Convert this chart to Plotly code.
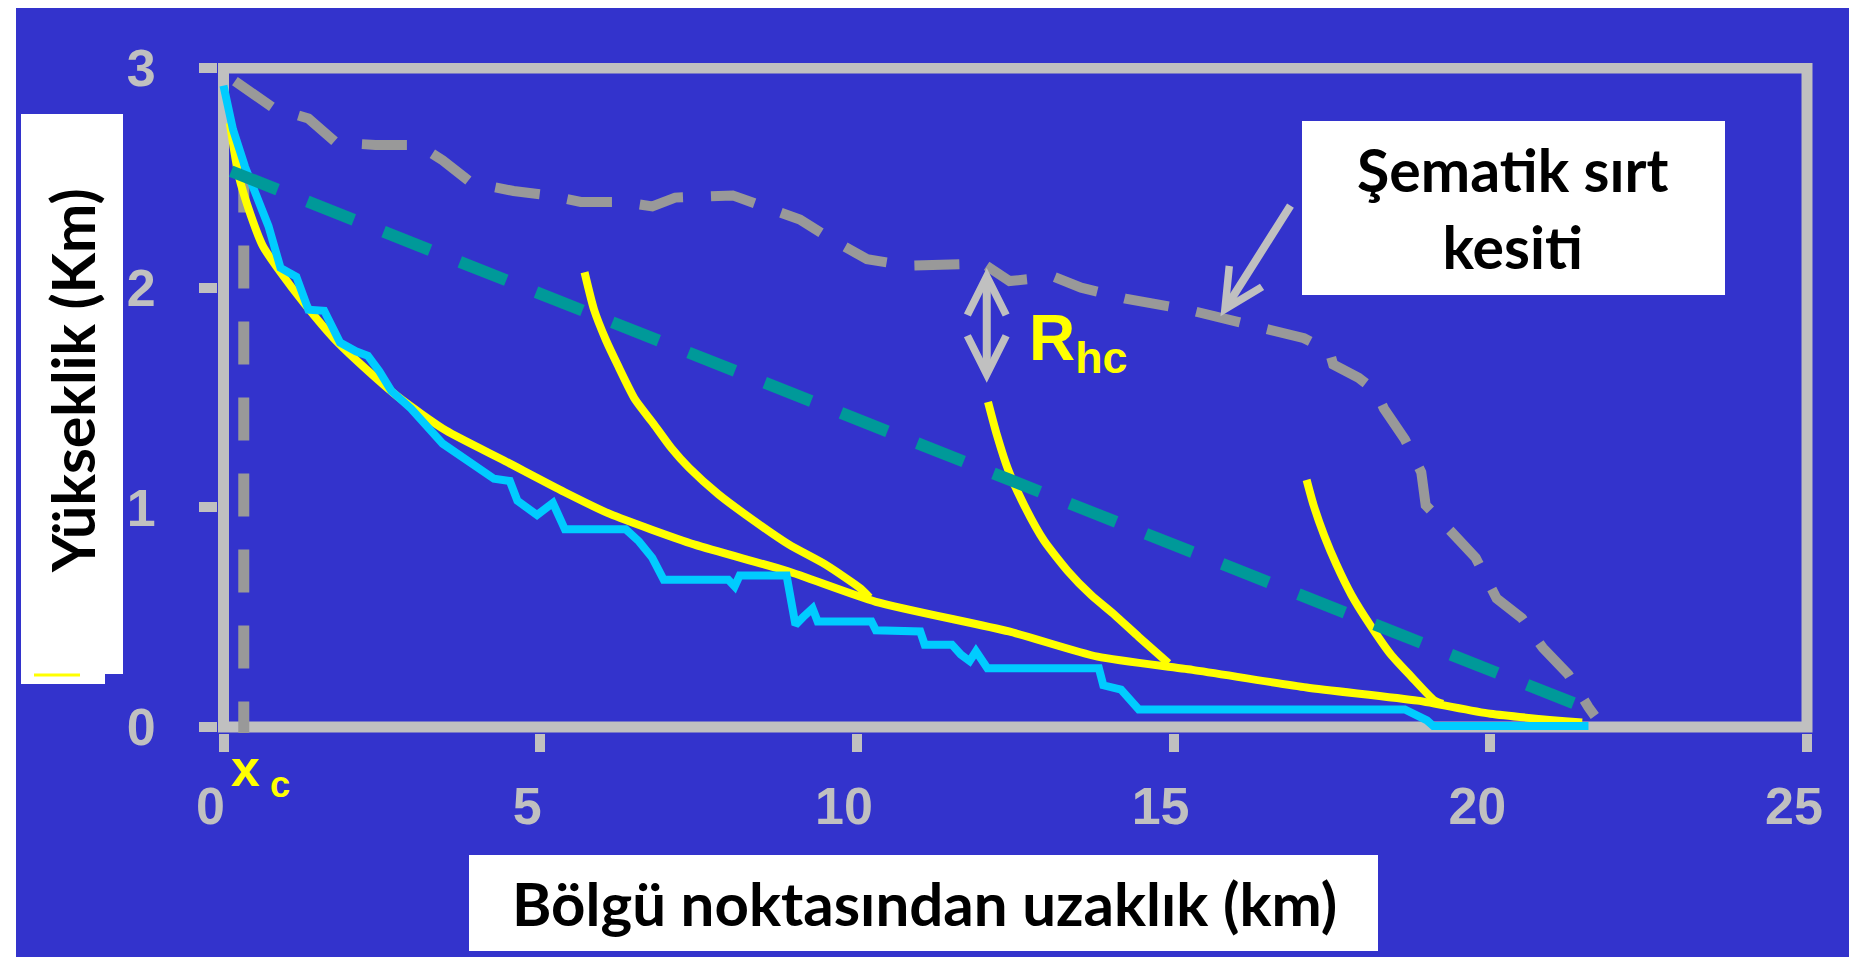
import plotly.graph_objects as go

# ---------------- data ----------------
x_ticks = [0, 5, 10, 15, 20, 25]
y_ticks = [0, 1, 2, 3]

ridge_x = [0.18, 0.78, 1.34, 1.78, 2.4, 3.08, 3.46, 3.9, 4.58, 5.14, 5.64, 6.32, 6.77, 7.13,
           8.04, 8.67, 9.1, 9.66, 10.16, 10.79, 11.99, 12.41, 13.11, 13.54, 14.24, 15.22,
           15.94, 16.6, 17.06, 17.46, 17.52, 17.92, 18.19, 18.32, 18.65, 18.91, 18.98, 19.38,
           19.77, 20.1, 20.5, 20.83, 21.23, 21.55, 21.65]
ridge_y = [2.94, 2.82, 2.77, 2.66, 2.65, 2.65, 2.58, 2.48, 2.44, 2.42, 2.39, 2.39, 2.37, 2.41,
           2.42, 2.36, 2.31, 2.21, 2.13, 2.10, 2.11, 2.03, 2.05, 2.0, 1.95, 1.90,
           1.85, 1.81, 1.77, 1.71, 1.65, 1.59, 1.53, 1.45, 1.31, 1.16, 1.01, 0.89,
           0.77, 0.585, 0.495, 0.36, 0.24, 0.09, 0.05]

trend_x = [0.12, 21.65]
trend_y = [2.53, 0.07]

xc_x = [0.32, 0.32]
xc_y = [-0.08, 2.55]

main_x = [0.1, 0.24, 0.43, 0.62, 0.9, 1.27, 1.74, 2.21, 2.77, 3.51, 4.45, 5.38, 6.1, 7.44,
          8.9, 10.3, 12.4, 13.8, 15.3, 17.1, 18.85, 20.0, 21.45]
main_y = [2.75, 2.51, 2.33, 2.19, 2.07, 1.93, 1.77, 1.64, 1.50, 1.35, 1.21, 1.07, 0.97, 0.83,
          0.71, 0.57, 0.435, 0.32, 0.26, 0.18, 0.12, 0.06, 0.02]

trib1_x = [5.70, 5.85, 6.04, 6.22, 6.50, 6.79, 7.07, 7.35, 7.81, 8.37, 8.93, 9.50, 10.06, 10.2]
trib1_y = [2.07, 1.90, 1.76, 1.65, 1.49, 1.38, 1.27, 1.18, 1.06, 0.94, 0.83, 0.74, 0.63, 0.59]

trib2_x = [12.07, 12.21, 12.39, 12.64, 12.95, 13.33, 13.70, 14.07, 14.45, 14.92]
trib2_y = [1.48, 1.33, 1.17, 1.01, 0.85, 0.71, 0.60, 0.51, 0.41, 0.29]

trib3_x = [17.10, 17.21, 17.38, 17.57, 17.81, 18.09, 18.43, 18.75, 19.12, 19.25]
trib3_y = [1.125, 1.01, 0.87, 0.74, 0.60, 0.47, 0.33, 0.23, 0.12, 0.105]

cyan_x = [0.0, 0.15, 0.34, 0.55, 0.71, 0.9, 1.15, 1.34, 1.59, 1.84, 2.09, 2.28, 2.46, 2.65,
          2.96, 3.46, 3.95, 4.27, 4.52, 4.64, 4.95, 5.2, 5.39, 6.35, 6.56, 6.77, 6.95, 7.97,
          8.07, 8.15, 8.89, 8.96, 9.03, 9.15, 9.3, 9.38, 10.23, 10.3, 11.0, 11.07, 11.5,
          11.64, 11.78, 11.88, 12.06, 13.82, 13.89, 14.17, 14.45, 18.65, 19.0, 19.1, 21.55]
cyan_y = [2.92, 2.72, 2.55, 2.4, 2.28, 2.09, 2.05, 1.90, 1.895, 1.75, 1.71, 1.69, 1.62, 1.53,
          1.45, 1.29, 1.19, 1.13, 1.12, 1.03, 0.965, 1.02, 0.90, 0.90, 0.845, 0.77, 0.67, 0.67,
          0.64, 0.69, 0.69, 0.555, 0.465, 0.5, 0.54, 0.48, 0.48, 0.44, 0.435, 0.375, 0.375,
          0.33, 0.30, 0.345, 0.268, 0.268, 0.19, 0.17, 0.08, 0.08, 0.03, 0.005, 0.005]

rhc_x = 12.05
rhc_y = [1.56, 2.09]
pointer_head = (15.74, 1.87)
pointer_tail = (16.86, 2.38)

# ---------------- layout geometry ----------------
W, H = 1857, 957
L, R, T, B = 210, 52, 55, 232
PW, PH = W - L - R, H - T - B
X0PX, X25PX = 215.5, 1799.0
Y0PX, Y3PX = 719.0, 60.0
xu = (X25PX - X0PX) / 25.0
yu = (Y0PX - Y3PX) / 3.0
x_range = [-(X0PX - L) / xu, 25 + ((W - R) - X25PX) / xu]
y_range = [-((H - B) - Y0PX) / yu, 3 + (Y3PX - T) / yu]


def px(x):
    return (x - L) / PW


def py(y):
    return ((H - B) - y) / PH


BG = "#3333CC"
FRAME = "#C0C0C0"
RIDGE = "#999999"
TEAL = "#009999"
YEL = "#FFFF00"
CYAN = "#00CCFF"

fig = go.Figure()

fig.add_trace(go.Scatter(x=xc_x, y=xc_y, mode="lines",
                         line=dict(color=RIDGE, width=11, dash="43px,33px"), hoverinfo="skip"))
fig.add_trace(go.Scatter(x=ridge_x, y=ridge_y, mode="lines",
                         line=dict(color=RIDGE, width=10, dash="45px,28px"), hoverinfo="skip"))
for xs, ys in [(main_x, main_y), (trib1_x, trib1_y), (trib2_x, trib2_y), (trib3_x, trib3_y)]:
    fig.add_trace(go.Scatter(x=xs, y=ys, mode="lines",
                             line=dict(color=YEL, width=8, shape="spline", smoothing=0.6),
                             hoverinfo="skip"))
fig.add_trace(go.Scatter(x=cyan_x, y=cyan_y, mode="lines", line=dict(color=CYAN, width=8),
                         hoverinfo="skip"))
fig.add_trace(go.Scatter(x=trend_x, y=trend_y, mode="lines",
                         line=dict(color=TEAL, width=12, dash="50px,32px"), hoverinfo="skip"))

shapes = [
    dict(type="rect", xref="x", yref="y", x0=0, x1=25, y0=0, y1=3,
         line=dict(color=FRAME, width=11), layer="below"),
    # thin white borders at the page sides
    dict(type="rect", xref="paper", yref="paper", x0=px(0), x1=px(8), y0=py(957), y1=py(0),
         fillcolor="white", line=dict(width=0)),
    dict(type="rect", xref="paper", yref="paper", x0=px(1847), x1=px(1857), y0=py(957), y1=py(0),
         fillcolor="white", line=dict(width=0)),
    # white boxes behind texts
    dict(type="rect", xref="paper", yref="paper", x0=px(13), x1=px(115), y0=py(666), y1=py(106),
         fillcolor="white", line=dict(width=0)),
    dict(type="rect", xref="paper", yref="paper", x0=px(13), x1=px(97), y0=py(676), y1=py(655),
         fillcolor="white", line=dict(width=0)),
    dict(type="line", xref="paper", yref="paper", x0=px(26), x1=px(72), y0=py(667), y1=py(667),
         line=dict(color=YEL, width=3)),
    dict(type="rect", xref="paper", yref="paper", x0=px(461), x1=px(1370), y0=py(943), y1=py(847),
         fillcolor="white", line=dict(width=0)),
    dict(type="rect", xref="paper", yref="paper", x0=px(1294), x1=px(1717), y0=py(287), y1=py(113),
         fillcolor="white", line=dict(width=0)),
]

annotations = [
    dict(text="<b>Yükseklik (Km)</b>", xref="paper", yref="paper", x=px(64), y=py(373),
         textangle=-90, showarrow=False, font=dict(family="Lato", size=59, color="black"),
         xanchor="center", yanchor="middle"),
    dict(text="<b>Bölgü noktasından uzaklık (km)</b>", xref="paper", yref="paper",
         x=px(916), y=py(895), showarrow=False, font=dict(family="Lato", size=60, color="black"),
         xanchor="center", yanchor="middle"),
    dict(text="<b>Şematik sırt<br>kesiti</b>", xref="paper", yref="paper",
         x=px(1505), y=py(200), showarrow=False, font=dict(family="Lato", size=59, color="black"),
         xanchor="center", yanchor="middle"),
    dict(text="<b>R<sub>hc</sub></b>", xref="paper", yref="paper", x=px(1019), y=py(334),
         showarrow=False, font=dict(family="Liberation Sans", size=64, color=YEL),
         xanchor="left", yanchor="middle"),
    dict(text="<b>x<sub> c</sub></b>", xref="paper", yref="paper", x=px(221), y=py(764),
         showarrow=False, font=dict(family="Liberation Sans", size=52, color=YEL),
         xanchor="left", yanchor="middle"),
    # R_hc double arrow
    dict(text="", x=rhc_x, y=rhc_y[1], ax=rhc_x, ay=rhc_y[0], xref="x", yref="y",
         axref="x", ayref="y", showarrow=True, arrowhead=5, startarrowhead=5,
         arrowside="end+start", arrowsize=0.95, startarrowsize=0.95, arrowwidth=8,
         arrowcolor=FRAME, standoff=0, startstandoff=0),
    # pointer to ridge profile
    dict(text="", x=pointer_head[0], y=pointer_head[1], ax=pointer_tail[0], ay=pointer_tail[1],
         xref="x", yref="y", axref="x", ayref="y", showarrow=True, arrowhead=5,
         arrowsize=0.95, arrowwidth=8, arrowcolor=FRAME, standoff=0),
]

TICK_FONT = dict(family="Liberation Sans", size=52, color=FRAME, weight="bold")
fig.update_layout(
    width=W, height=H,
    margin=dict(l=L, r=R, t=T, b=B, pad=0),
    paper_bgcolor=BG, plot_bgcolor=BG,
    showlegend=False,
    shapes=shapes, annotations=annotations,
    xaxis=dict(range=x_range, tickvals=x_ticks, ticktext=[str(v) for v in x_ticks],
               showgrid=False, zeroline=False, showline=False,
               ticks="outside", ticklen=18, tickwidth=10, tickcolor=FRAME,
               tickfont=TICK_FONT, ticklabelstandoff=10, ticklabelshift=-13, fixedrange=True),
    yaxis=dict(range=y_range, tickvals=y_ticks, ticktext=[str(v) for v in y_ticks],
               showgrid=False, zeroline=False, showline=False,
               ticks="outside", ticklen=18, tickwidth=10, tickcolor=FRAME,
               tickfont=TICK_FONT, ticklabelstandoff=33, fixedrange=True),
)

fig.write_html("out.html", config={"displayModeBar": False})
